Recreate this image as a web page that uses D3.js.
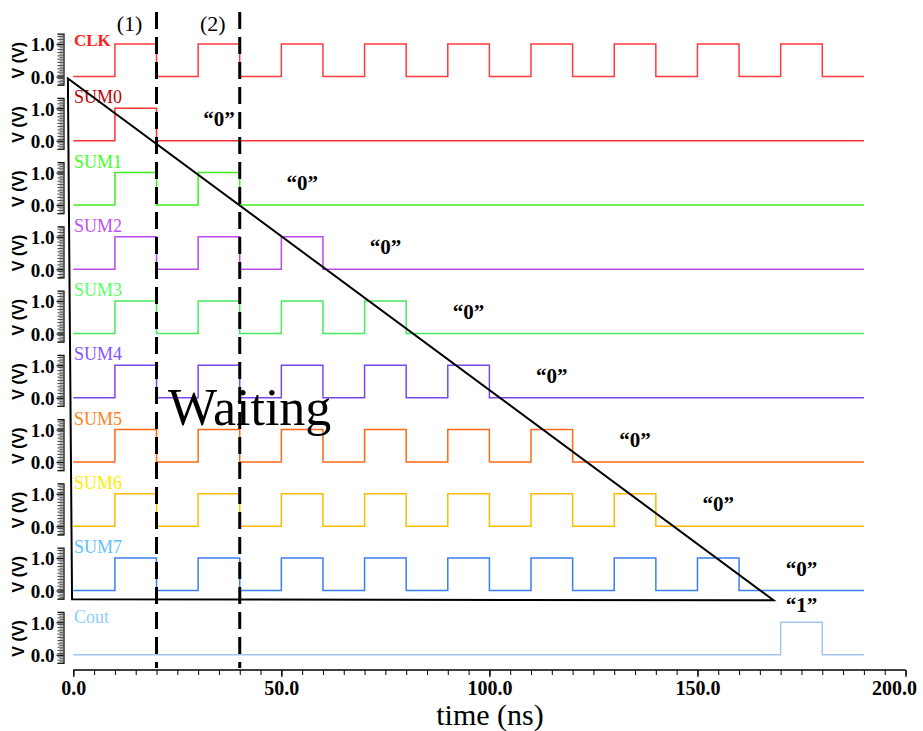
<!DOCTYPE html>
<html>
<head>
<meta charset="utf-8">
<script src="https://cdn.jsdelivr.net/npm/d3@7"></script>
<style>
  html, body { margin: 0; padding: 0; background: #fff; }
  svg { display: block; }
</style>
</head>
<body>
<svg id="chart" width="923" height="731"></svg>
<script>
// ---------------- data ----------------
const signalNames = ["CLK", "SUM0", "SUM1", "SUM2", "SUM3", "SUM4", "SUM5", "SUM6", "SUM7", "Cout"];
const lineColors  = ["#ff3b3b", "#ff3030", "#3cf01c", "#bb48f0", "#46ec5e", "#7a46f0", "#ff6a14", "#ffbb00", "#3a7ff0", "#a4c6ee"];
const labelColors = ["#ff2020", "#c40000", "#44ff22", "#c050f4", "#55ff66", "#8452ff", "#ff8420", "#ffec00", "#5cc2ff", "#8ecdff"];

// high intervals [start, end] in ns
const clkHigh  = [[10,20],[30,40],[50,60],[70,80],[90,100],[110,120],[130,140],[150,160],[170,180]];
const sum0High = [[10,20]];
const sum1High = [[10,20],[30,40]];
const sum2High = [[10,20],[30,40],[50,60]];
const sum3High = [[10,20],[30,40],[50,60],[70,80]];
const sum4High = [[10,20],[30,40],[50,60],[70,80],[90,100]];
const sum5High = [[10,20],[30,40],[50,60],[70,80],[90,100],[110,120]];
const sum6High = [[10,20],[30,40],[50,60],[70,80],[90,100],[110,120],[130,140]];
const sum7High = [[10,20],[30,40],[50,60],[70,80],[90,100],[110,120],[130,140],[150,160]];
const coutHigh = [[170,180]];
const signalHigh = [clkHigh, sum0High, sum1High, sum2High, sum3High, sum4High, sum5High, sum6High, sum7High, coutHigh];
const simEnd = 190;

const xTickValues = [0, 50, 100, 150, 200];
const xTickLabels = ["0.0", "50.0", "100.0", "150.0", "200.0"];
const yTickValues = [0, 1];
const yTickLabels = ["0.0", "1.0"];

// annotations
const markerTimes = [20, 40];
const markerLabels = ["(1)", "(2)"];
const finalRows   = [1, 2, 3, 4, 5, 6, 7, 8, 9];
const finalTimes  = [35, 55, 75, 95, 115, 135, 155, 175, 175];
const finalLabels = ["“0”", "“0”", "“0”", "“0”", "“0”", "“0”", "“0”", "“0”", "“1”"];
// triangle vertices: [time, row, volts]
const triangle = [[-1.3, 0, -0.06], [-0.3, 8, -0.27], [168.3, 8, -0.3]];

// ---------------- layout ----------------
const svg = d3.select("#chart");
const x = d3.scaleLinear().domain([0, 200]).range([73.3, 905.5]);
const rowTop0 = 44, rowStep = 64.25, rowAmp = 32.5;
const yRow = i => d3.scaleLinear().domain([0, 1]).range([rowTop0 + rowStep * i + rowAmp, rowTop0 + rowStep * i]);

const serif = "'Liberation Serif', 'Times New Roman', serif";
const sans = "'Liberation Sans', Arial, sans-serif";

// y axes per panel
signalNames.forEach((name, i) => {
  const y = yRow(i);
  const g = svg.append("g").attr("transform", "translate(63.5,0)");
  const minor = d3.range(-0.25, 1.33, 0.1).map(v => +v.toFixed(2));
  const minorAxis = d3.axisLeft(d3.scaleLinear().domain([-0.25, 1.32]).range([y(-0.25), y(1.32)]))
    .tickValues(minor).tickSize(6).tickFormat("");
  g.append("g").call(minorAxis).call(s => s.select(".domain").attr("stroke-width", 1.2))
    .selectAll("line").attr("stroke", "#222").attr("stroke-width", 0.9);
  const halfAxis = d3.axisLeft(y).tickValues(d3.range(-0.2, 1.31, 0.1).map(v => +v.toFixed(2))).tickSize(4).tickFormat("");
  g.append("g").call(halfAxis).call(s => s.select(".domain").remove())
    .selectAll("line").attr("stroke", "#444").attr("stroke-width", 0.8);
  const majorAxis = d3.axisLeft(y).tickValues(yTickValues).tickSize(7)
    .tickFormat(d => yTickLabels[yTickValues.indexOf(d)]);
  const mg = g.append("g").call(majorAxis);
  mg.select(".domain").remove();
  mg.selectAll("line").attr("stroke", "#111").attr("stroke-width", 1.3);
  mg.selectAll("text").attr("x", -9).attr("dy", "0.36em")
    .attr("font-family", serif).attr("font-weight", "bold").attr("font-size", 19).attr("fill", "#000");

  svg.append("text")
    .attr("transform", `translate(24,${(y(0) + y(1)) / 2}) rotate(-90)`)
    .attr("text-anchor", "middle")
    .attr("font-family", sans).attr("font-weight", "bold").attr("font-size", 16)
    .text("V (V)");
});

// x axis
const xAxisY = 670;
const xMinor = d3.axisBottom(x).tickValues(d3.range(0, 201, 5)).tickSize(5).tickFormat("");
const xg = svg.append("g").attr("transform", `translate(0,${xAxisY})`).call(xMinor);
xg.select(".domain").attr("stroke", "#000").attr("stroke-width", 1.3).attr("d", `M${x(0)},0H${x(200)}`);
xg.selectAll("line").attr("stroke", "#000").attr("stroke-width", 1);
const xMajor = d3.axisBottom(x).tickValues(xTickValues).tickSize(7)
  .tickFormat(d => xTickLabels[xTickValues.indexOf(d)]);
const xmg = svg.append("g").attr("transform", `translate(0,${xAxisY})`).call(xMajor);
xmg.select(".domain").remove();
xmg.selectAll("line").attr("stroke", "#000").attr("stroke-width", 1.3);
xmg.selectAll("text").attr("y", 25).attr("dy", null)
  .attr("font-family", serif).attr("font-weight", "bold").attr("font-size", 20).attr("fill", "#000")
  .filter(d => d === 200).attr("text-anchor", "end").attr("x", 11);

svg.append("text").attr("x", 490).attr("y", 725).attr("text-anchor", "middle")
  .attr("font-family", serif).attr("font-size", 30).text("time (ns)");

// signals
const toSteps = highs => {
  const pts = [[0, 0]];
  highs.forEach(([a, b]) => { pts.push([a, 0], [a, 1], [b, 1], [b, 0]); });
  pts.push([simEnd, 0]);
  return pts;
};
signalNames.forEach((name, i) => {
  const y = yRow(i);
  const line = d3.line().x(d => x(d[0])).y(d => y(d[1]));
  svg.append("path").datum(toSteps(signalHigh[i]))
    .attr("d", line).attr("fill", "none")
    .attr("stroke", lineColors[i]).attr("stroke-width", 1.5);
  const isClk = i === 0;
  svg.append("text")
    .attr("x", 74).attr("y", isClk ? y(1) + 2 : (i === 9 ? y(1) + 1 : y(1) - 5))
    .attr("font-family", serif)
    .attr("font-weight", isClk ? "bold" : "normal")
    .attr("font-size", isClk ? 17 : 18)
    .attr("fill", labelColors[i])
    .text(name);
});

// dashed markers
markerTimes.forEach((t, k) => {
  svg.append("line").attr("x1", x(t)).attr("x2", x(t)).attr("y1", 12).attr("y2", 668)
    .attr("stroke", "#000").attr("stroke-width", 3).attr("stroke-dasharray", "17,8");
  svg.append("text").attr("x", x(t) - 27).attr("y", 31).attr("text-anchor", "middle")
    .attr("font-family", serif).attr("font-size", 22).text(markerLabels[k]);
});

// triangle
const triPts = triangle.map(([t, r, v]) => [x(t), yRow(r)(v)]);
svg.append("path").attr("d", d3.line()(triPts) + "Z")
  .attr("fill", "none").attr("stroke", "#000").attr("stroke-width", 2);

// final value labels
finalRows.forEach((r, k) => {
  const y = yRow(r);
  const yy = r === 9 ? y(1) - 10 : y(0) - 15;
  svg.append("text").attr("x", x(finalTimes[k])).attr("y", yy).attr("text-anchor", "middle")
    .attr("font-family", serif).attr("font-weight", "bold").attr("font-size", 21)
    .text(finalLabels[k]);
});

// Waiting
svg.append("text").attr("x", 168).attr("y", 425)
  .attr("font-family", serif).attr("font-size", 52).text("Waiting");
</script>
</body>
</html>
